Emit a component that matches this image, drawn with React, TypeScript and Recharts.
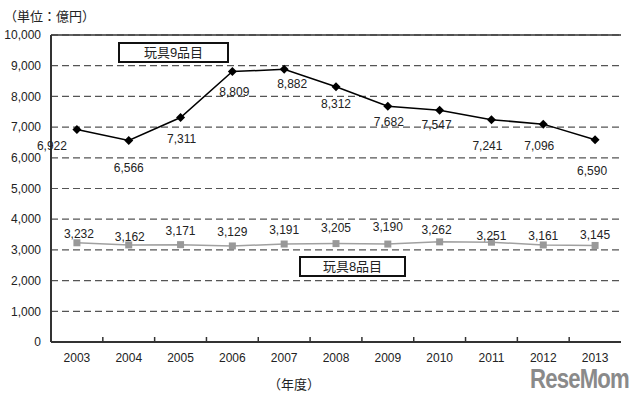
import React from "react";
import {
  LineChart,
  Line,
  XAxis,
  YAxis,
  CartesianGrid,
  ReferenceLine,
  LabelList,
} from "recharts";

const years = ["2003", "2004", "2005", "2006", "2007", "2008", "2009", "2010", "2011", "2012", "2013"];
const toy9 = [6922, 6566, 7311, 8809, 8882, 8312, 7682, 7547, 7241, 7096, 6590];
const toy8 = [3232, 3162, 3171, 3129, 3191, 3205, 3190, 3262, 3251, 3161, 3145];
const yTicks = [0, 1000, 2000, 3000, 4000, 5000, 6000, 7000, 8000, 9000, 10000];

// label placement tweaks (style only)
const toy9LabelDx = [-25, 0, 1, 2, 8, 0, 1, -3, -4, -4, -3];
const toy9LabelDy = [17, 28, 21, 20, 15, 17, 16, 15, 26, 22, 31];
const toy8LabelDx = [2, 1, 0, 0, 0, 0, 0, -3, 0, 0, 0];
const toy8LabelDy = [-9, -8, -14, -14, -14, -16, -17, -12, -6, -9, -10];

const data = years.map((y, i) => ({ year: y, toy9: toy9[i], toy8: toy8[i] }));

const FONT = "'Liberation Sans', 'Noto Sans CJK JP', sans-serif";
const TEXT = "#222";

const CHART_W = 640;
const CHART_H = 399;
const MARGIN = { top: 35, right: 19, bottom: 27, left: 0 };
const Y_AXIS_W = 51;
const PLOT_W = CHART_W - MARGIN.right - MARGIN.left - Y_AXIS_W;
const HALF_BAND = PLOT_W / years.length / 2;
const X_TICK_MARGIN = 11;

const fmt = (v: number) => v.toLocaleString("en-US");

const Diamond = (props: any) => {
  const { cx, cy } = props;
  if (cx == null || cy == null) return null;
  const r = 4.5;
  return (
    <polygon
      points={`${cx},${cy - r} ${cx + r},${cy} ${cx},${cy + r} ${cx - r},${cy}`}
      fill="#000"
    />
  );
};

const Square = (props: any) => {
  const { cx, cy } = props;
  if (cx == null || cy == null) return null;
  return <rect x={cx - 3.5} y={cy - 3.5} width={7} height={7} fill="#999" />;
};

const YearTick = (props: any) => {
  const { x, y, payload, index } = props;
  const axisY = y - X_TICK_MARGIN;
  return (
    <g>
      {index > 0 && (
        <line
          x1={x - HALF_BAND}
          x2={x - HALF_BAND}
          y1={axisY}
          y2={axisY - 5}
          stroke="#333"
          strokeWidth={1.5}
        />
      )}
      <text
        x={x}
        y={y}
        dy="0.71em"
        textAnchor="middle"
        fontSize={12}
        fontFamily={FONT}
        fill={TEXT}
      >
        {payload.value}
      </text>
    </g>
  );
};

const makeLabel = (dxs: number[], dys: number[]) => (props: any) => {
  const { x, y, value, index } = props;
  if (x == null || y == null) return null;
  return (
    <text
      x={x + dxs[index]}
      y={y + dys[index]}
      textAnchor="middle"
      dominantBaseline="central"
      fontSize={12}
      fontFamily={FONT}
      fill={TEXT}
    >
      {fmt(Number(value))}
    </text>
  );
};

export default function App() {
  return (
    <div style={{ position: "absolute", left: 0, top: 0, width: CHART_W, height: CHART_H, background: "#fff", fontFamily: FONT }}>
      <LineChart width={CHART_W} height={CHART_H} data={data} margin={MARGIN}>
        <CartesianGrid horizontal vertical={false} stroke="#555" strokeDasharray="7 4" strokeWidth={1.2} />
        <XAxis
          dataKey="year"
          height={30}
          padding={{ left: HALF_BAND, right: HALF_BAND }}
          tickLine={false}
          tickSize={0}
          tickMargin={X_TICK_MARGIN}
          axisLine={{ stroke: "#333", strokeWidth: 2 }}
          tick={<YearTick />}
          interval={0}
        />
        <YAxis
          domain={[0, 10000]}
          ticks={yTicks}
          width={Y_AXIS_W}
          tickLine={false}
          tickSize={0}
          tickMargin={10}
          axisLine={{ stroke: "#333", strokeWidth: 2 }}
          tick={{ fontSize: 12, fill: TEXT, fontFamily: FONT }}
          tickFormatter={fmt}
          interval={0}
        />
        <YAxis
          yAxisId="r"
          orientation="right"
          domain={[0, 10000]}
          width={0}
          tick={false}
          tickLine={false}
          axisLine={{ stroke: "#333", strokeWidth: 1.5 }}
        />
        <ReferenceLine y={10000} stroke="#333" strokeWidth={1.5} />
        <Line
          dataKey="toy8"
          stroke="#a0a0a0"
          strokeWidth={1.5}
          dot={<Square />}
          isAnimationActive={false}
        >
          <LabelList dataKey="toy8" content={makeLabel(toy8LabelDx, toy8LabelDy)} />
        </Line>
        <Line
          dataKey="toy9"
          stroke="#000"
          strokeWidth={1.5}
          dot={<Diamond />}
          isAnimationActive={false}
        >
          <LabelList dataKey="toy9" content={makeLabel(toy9LabelDx, toy9LabelDy)} />
        </Line>
      </LineChart>

      <div style={{ position: "absolute", left: 4, top: 6, fontSize: 13, color: TEXT, whiteSpace: "nowrap" }}>
        （単位：億円）
      </div>
      <div
        style={{
          position: "absolute", left: 118, top: 42, width: 107, height: 17,
          border: "2px solid #111", background: "#fff", fontSize: 13, color: TEXT,
          textAlign: "center", lineHeight: "17px",
        }}
      >
        玩具9品目
      </div>
      <div
        style={{
          position: "absolute", left: 299, top: 256, width: 103, height: 17,
          border: "2px solid #111", background: "#fff", fontSize: 13, color: TEXT,
          textAlign: "center", lineHeight: "17px",
        }}
      >
        玩具8品目
      </div>
      <div style={{ position: "absolute", left: 268, top: 374, fontSize: 13, color: TEXT, whiteSpace: "nowrap" }}>
        （年度）
      </div>
      <div
        style={{
          position: "absolute", left: 530, top: 364, fontSize: 27, fontWeight: "bold", color: "#8a8a8a",
          letterSpacing: -1, whiteSpace: "nowrap", transform: "scaleX(0.82)", transformOrigin: "left top",
        }}
      >
        ReseMom
      </div>
    </div>
  );
}
